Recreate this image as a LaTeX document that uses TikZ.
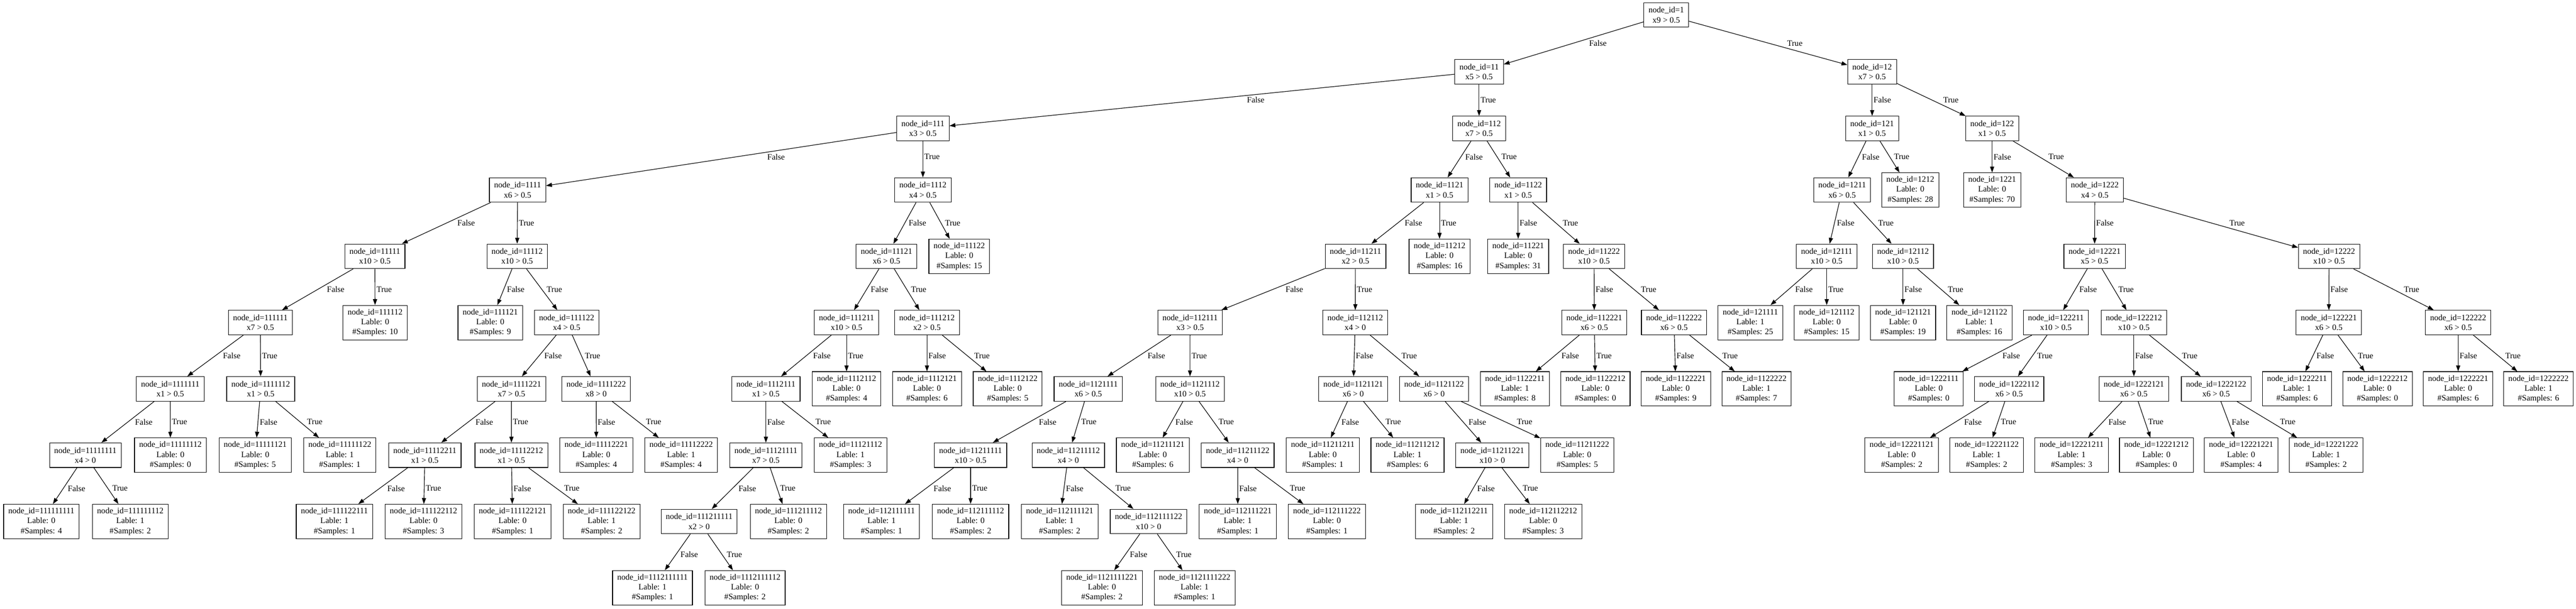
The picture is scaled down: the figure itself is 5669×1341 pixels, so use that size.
\documentclass[tikz,border=0pt]{standalone}
\usepackage{fontspec}
\setmainfont{Liberation Serif}
\usetikzlibrary{arrows.meta,calc}
\newcommand\gvf{\fontsize{14}{16.8}\selectfont}
\tikzset{
  box/.style={draw, line width=1pt, align=center, font=\gvf, inner xsep=7.92pt, inner ysep=0pt},
  inode/.style={box, minimum height=41.5pt},
  leaf/.style={box, minimum height=58.3pt},
  edge/.style={line width=1pt, -{Triangle[length=10pt,width=7pt]}},
  elabel/.style={font=\gvf, inner sep=0pt, anchor=west},
}
\newcommand\IN[4]{\node[inode] (n#1) at (#2,#3) {node\_id=#1\\#4};}
\newcommand\LF[5]{\node[leaf] (n#1) at (#2,#3) {node\_id=#1\\Lable: #4\\\#Samples: #5};}
\newcommand\E[4]{%
  \draw[edge] (n#1) -- (n#2);
  \path let \p1=(n#1.center), \p2=(n#2.center) in
    node[elabel] at ({\x1+((-#4*0.76923pt)-(\y1))*(((\x2)-(\x1))/((\y2)-(\y1)))+7.69pt*abs(((\x2)-(\x1))/((\y2)-(\y1)))+2.3pt}, {-#4*0.76923pt}) {#3};}
\begin{document}
\begin{tikzpicture}[x=0.76923pt, y=-0.76923pt]
\fill[white] (0,0) rectangle (5669,1341);
\useasboundingbox (0,0) rectangle (5669,1341);
% depth 1
\IN{1}{3667}{33}{x9 > 0.5}
% depth 2
\IN{11}{3255}{158}{x5 > 0.5}
\IN{12}{4120}{158}{x7 > 0.5}
% depth 3
\IN{111}{2031}{283}{x3 > 0.5}
\IN{112}{3255}{283}{x7 > 0.5}
\IN{121}{4120}{283}{x1 > 0.5}
\IN{122}{4384}{283}{x1 > 0.5}
% depth 4
\IN{1111}{1139}{418.5}{x6 > 0.5}
\IN{1112}{2031}{418.5}{x4 > 0.5}
\IN{1121}{3168}{418.5}{x1 > 0.5}
\IN{1122}{3341}{418.5}{x1 > 0.5}
\IN{1211}{4054}{418.5}{x6 > 0.5}
\LF{1212}{4204}{418.5}{0}{28}
\LF{1221}{4384}{418.5}{0}{70}
\IN{1222}{4610}{418.5}{x4 > 0.5}
% depth 5
\IN{11111}{825}{564.5}{x10 > 0.5}
\IN{11112}{1138}{564.5}{x10 > 0.5}
\IN{11121}{1951}{564.5}{x6 > 0.5}
\LF{11122}{2111}{564.5}{0}{15}
\IN{11211}{2983}{564.5}{x2 > 0.5}
\LF{11212}{3168}{564.5}{0}{16}
\LF{11221}{3341}{564.5}{0}{31}
\IN{11222}{3508}{564.5}{x10 > 0.5}
\IN{12111}{4020}{564.5}{x10 > 0.5}
\IN{12112}{4188}{564.5}{x10 > 0.5}
\IN{12221}{4609.5}{564.5}{x5 > 0.5}
\IN{12222}{5125.5}{564.5}{x10 > 0.5}
% depth 6
\IN{111111}{573}{710.5}{x7 > 0.5}
\LF{111112}{825.5}{710.5}{0}{10}
\LF{111121}{1079}{710.5}{0}{9}
\IN{111122}{1247}{710.5}{x4 > 0.5}
\IN{111211}{1863}{710.5}{x10 > 0.5}
\IN{111212}{2040}{710.5}{x2 > 0.5}
\IN{112111}{2619}{710.5}{x3 > 0.5}
\IN{112112}{2982.5}{710.5}{x4 > 0}
\IN{112221}{3508.5}{710.5}{x6 > 0.5}
\IN{112222}{3684}{710.5}{x6 > 0.5}
\LF{121111}{3852}{710.5}{1}{25}
\LF{121112}{4020}{710.5}{0}{15}
\LF{121121}{4188}{710.5}{0}{19}
\LF{121122}{4356}{710.5}{1}{16}
\IN{122211}{4524.4}{710.5}{x10 > 0.5}
\IN{122212}{4696}{710.5}{x10 > 0.5}
\IN{122221}{5125}{710.5}{x6 > 0.5}
\IN{122222}{5409.6}{710.5}{x6 > 0.5}
% depth 7
\IN{1111111}{374.7}{856.5}{x1 > 0.5}
\IN{1111112}{573.7}{856.5}{x1 > 0.5}
\IN{1111221}{1125.7}{856.5}{x7 > 0.5}
\IN{1111222}{1312}{856.5}{x8 > 0}
\IN{1112111}{1685.5}{856.5}{x1 > 0.5}
\LF{1112112}{1863}{856.5}{0}{4}
\LF{1112121}{2040}{856.5}{0}{6}
\LF{1112122}{2217.6}{856.5}{0}{5}
\IN{1121111}{2395}{856.5}{x6 > 0.5}
\IN{1121112}{2618.8}{856.5}{x10 > 0.5}
\IN{1121121}{2978}{856.5}{x6 > 0}
\IN{1121122}{3156}{856.5}{x6 > 0}
\LF{1122211}{3334}{856.5}{1}{8}
\LF{1122212}{3511}{856.5}{0}{0}
\LF{1122221}{3688}{856.5}{0}{9}
\LF{1122222}{3865.5}{856.5}{1}{7}
\LF{1222111}{4244.7}{856.5}{0}{0}
\IN{1222112}{4421.4}{856.5}{x6 > 0.5}
\IN{1222121}{4696}{856.5}{x6 > 0.5}
\IN{1222122}{4877}{856.5}{x6 > 0.5}
\LF{1222211}{5055}{856.5}{1}{6}
\LF{1222212}{5232}{856.5}{0}{0}
\LF{1222221}{5409.6}{856.5}{0}{6}
\LF{1222222}{5586.4}{856.5}{1}{6}
% depth 8
\IN{11111111}{187.8}{1002.5}{x4 > 0}
\LF{11111112}{375}{1002.5}{0}{0}
\LF{11111121}{561.6}{1002.5}{0}{5}
\LF{11111122}{747.8}{1002.5}{1}{1}
\IN{11112211}{935}{1002.5}{x1 > 0.5}
\IN{11112212}{1125.4}{1002.5}{x1 > 0.5}
\LF{11112221}{1312.3}{1002.5}{0}{4}
\LF{11112222}{1499}{1002.5}{1}{4}
\IN{11121111}{1685.5}{1002.5}{x7 > 0.5}
\LF{11121112}{1871.8}{1002.5}{1}{3}
\IN{11211111}{2136}{1002.5}{x10 > 0.5}
\IN{11211112}{2351}{1002.5}{x4 > 0}
\LF{11211121}{2537}{1002.5}{0}{6}
\IN{11211122}{2723.8}{1002.5}{x4 > 0}
\LF{11211211}{2911}{1002.5}{0}{1}
\LF{11211212}{3097.5}{1002.5}{1}{6}
\IN{11211221}{3284}{1002.5}{x10 > 0}
\LF{11211222}{3471}{1002.5}{0}{5}
\LF{12221121}{4185}{1002.5}{0}{2}
\LF{12221122}{4372}{1002.5}{1}{2}
\LF{12221211}{4559}{1002.5}{1}{3}
\LF{12221212}{4745.6}{1002.5}{0}{0}
\LF{12221221}{4932}{1002.5}{0}{4}
\LF{12221222}{5119}{1002.5}{1}{2}
% depth 9
\LF{111111111}{90.9}{1148.5}{0}{4}
\LF{111111112}{286.7}{1148.5}{1}{2}
\LF{111122111}{736}{1148.5}{1}{1}
\LF{111122112}{932}{1148.5}{0}{3}
\LF{111122121}{1128}{1148.5}{0}{1}
\LF{111122122}{1324}{1148.5}{1}{2}
\IN{111211111}{1538.6}{1148.5}{x2 > 0}
\LF{111211112}{1735}{1148.5}{0}{2}
\LF{112111111}{1940}{1148.5}{1}{1}
\LF{112111112}{2136}{1148.5}{0}{2}
\LF{112111121}{2332}{1148.5}{1}{2}
\IN{112111122}{2527.7}{1148.5}{x10 > 0}
\LF{112111221}{2724}{1148.5}{1}{1}
\LF{112111222}{2920}{1148.5}{0}{1}
\LF{112112211}{3200}{1148.5}{1}{2}
\LF{112112212}{3396}{1148.5}{0}{3}
% depth 10
\LF{1112111111}{1436}{1294.5}{1}{1}
\LF{1112111112}{1639.6}{1294.5}{0}{2}
\LF{1121111221}{2425}{1294.5}{0}{2}
\LF{1121111222}{2629}{1294.5}{1}{1}
% edges
\E{1}{11}{False}{95.5} \E{1}{12}{True}{95.5}
\E{11}{111}{False}{220.5} \E{11}{112}{True}{220.5}
\E{12}{121}{False}{220.5} \E{12}{122}{True}{220.5}
\E{111}{1111}{False}{345.5} \E{111}{1112}{True}{345.5}
\E{112}{1121}{False}{345.5} \E{112}{1122}{True}{345.5}
\E{121}{1211}{False}{345.5} \E{121}{1212}{True}{345.5}
\E{122}{1221}{False}{345.5} \E{122}{1222}{True}{345.5}
\E{1111}{11111}{False}{491.5} \E{1111}{11112}{True}{491.5}
\E{1112}{11121}{False}{491.5} \E{1112}{11122}{True}{491.5}
\E{1121}{11211}{False}{491.5} \E{1121}{11212}{True}{491.5}
\E{1122}{11221}{False}{491.5} \E{1122}{11222}{True}{491.5}
\E{1211}{12111}{False}{491.5} \E{1211}{12112}{True}{491.5}
\E{1222}{12221}{False}{491.5} \E{1222}{12222}{True}{491.5}
\E{11111}{111111}{False}{637.5} \E{11111}{111112}{True}{637.5}
\E{11112}{111121}{False}{637.5} \E{11112}{111122}{True}{637.5}
\E{11121}{111211}{False}{637.5} \E{11121}{111212}{True}{637.5}
\E{11211}{112111}{False}{637.5} \E{11211}{112112}{True}{637.5}
\E{11222}{112221}{False}{637.5} \E{11222}{112222}{True}{637.5}
\E{12111}{121111}{False}{637.5} \E{12111}{121112}{True}{637.5}
\E{12112}{121121}{False}{637.5} \E{12112}{121122}{True}{637.5}
\E{12221}{122211}{False}{637.5} \E{12221}{122212}{True}{637.5}
\E{12222}{122221}{False}{637.5} \E{12222}{122222}{True}{637.5}
\E{111111}{1111111}{False}{783.5} \E{111111}{1111112}{True}{783.5}
\E{111122}{1111221}{False}{783.5} \E{111122}{1111222}{True}{783.5}
\E{111211}{1112111}{False}{783.5} \E{111211}{1112112}{True}{783.5}
\E{111212}{1112121}{False}{783.5} \E{111212}{1112122}{True}{783.5}
\E{112111}{1121111}{False}{783.5} \E{112111}{1121112}{True}{783.5}
\E{112112}{1121121}{False}{783.5} \E{112112}{1121122}{True}{783.5}
\E{112221}{1122211}{False}{783.5} \E{112221}{1122212}{True}{783.5}
\E{112222}{1122221}{False}{783.5} \E{112222}{1122222}{True}{783.5}
\E{122211}{1222111}{False}{783.5} \E{122211}{1222112}{True}{783.5}
\E{122212}{1222121}{False}{783.5} \E{122212}{1222122}{True}{783.5}
\E{122221}{1222211}{False}{783.5} \E{122221}{1222212}{True}{783.5}
\E{122222}{1222221}{False}{783.5} \E{122222}{1222222}{True}{783.5}
\E{1111111}{11111111}{False}{929.5} \E{1111111}{11111112}{True}{929.5}
\E{1111112}{11111121}{False}{929.5} \E{1111112}{11111122}{True}{929.5}
\E{1111221}{11112211}{False}{929.5} \E{1111221}{11112212}{True}{929.5}
\E{1111222}{11112221}{False}{929.5} \E{1111222}{11112222}{True}{929.5}
\E{1112111}{11121111}{False}{929.5} \E{1112111}{11121112}{True}{929.5}
\E{1121111}{11211111}{False}{929.5} \E{1121111}{11211112}{True}{929.5}
\E{1121112}{11211121}{False}{929.5} \E{1121112}{11211122}{True}{929.5}
\E{1121121}{11211211}{False}{929.5} \E{1121121}{11211212}{True}{929.5}
\E{1121122}{11211221}{False}{929.5} \E{1121122}{11211222}{True}{929.5}
\E{1222112}{12221121}{False}{929.5} \E{1222112}{12221122}{True}{929.5}
\E{1222121}{12221211}{False}{929.5} \E{1222121}{12221212}{True}{929.5}
\E{1222122}{12221221}{False}{929.5} \E{1222122}{12221222}{True}{929.5}
\E{11111111}{111111111}{False}{1075.5} \E{11111111}{111111112}{True}{1075.5}
\E{11112211}{111122111}{False}{1075.5} \E{11112211}{111122112}{True}{1075.5}
\E{11112212}{111122121}{False}{1075.5} \E{11112212}{111122122}{True}{1075.5}
\E{11121111}{111211111}{False}{1075.5} \E{11121111}{111211112}{True}{1075.5}
\E{11211111}{112111111}{False}{1075.5} \E{11211111}{112111112}{True}{1075.5}
\E{11211112}{112111121}{False}{1075.5} \E{11211112}{112111122}{True}{1075.5}
\E{11211122}{112111221}{False}{1075.5} \E{11211122}{112111222}{True}{1075.5}
\E{11211221}{112112211}{False}{1075.5} \E{11211221}{112112212}{True}{1075.5}
\E{111211111}{1112111111}{False}{1221.5} \E{111211111}{1112111112}{True}{1221.5}
\E{112111122}{1121111221}{False}{1221.5} \E{112111122}{1121111222}{True}{1221.5}
\end{tikzpicture}
\end{document}
